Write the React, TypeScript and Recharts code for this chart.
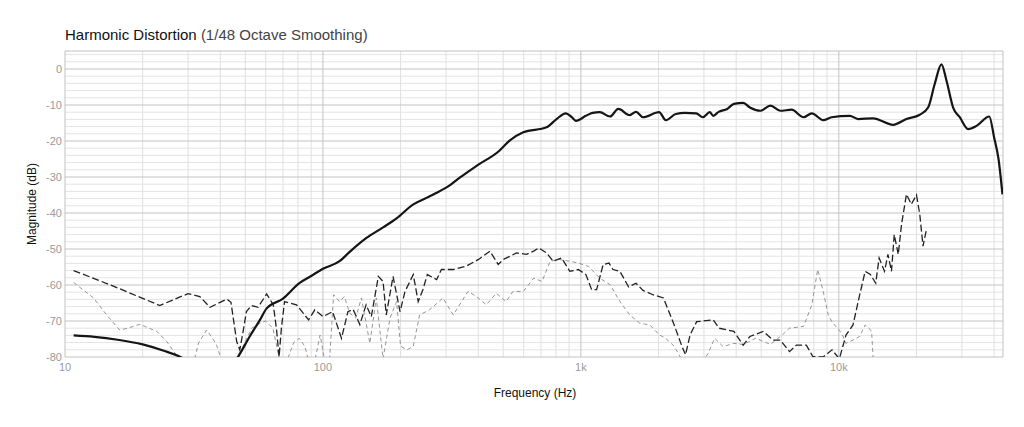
import { LineChart, Line, XAxis, YAxis, ReferenceLine } from "recharts";

// [frequency Hz, magnitude dB]
const fundamental: [number, number][] = [
	[10.8, -74.0], [13, -74.4], [16, -75.2], [20, -76.5], [24, -78.2], [28, -80], [31, -82],
	[35, -86], [42, -84], [46.8, -80], [52, -74.3], [57, -69.7], [60.5, -66.5], [70, -63.8],
	[81, -59.5], [90, -57.5], [100, -55.5], [116, -53.4], [127, -50.8], [147, -47], [171, -44],
	[193, -41.5], [224, -37.6], [252, -35.8], [276, -34.4], [312, -32.2], [339, -30.2],
	[394, -26.9], [483, -22.7], [529, -19.9], [598, -17.6], [736, -16.2], [805, -13.9],
	[874, -12.3], [920, -13.3], [957, -14.4], [1046, -13.0], [1110, -12.2], [1184, -12.0],
	[1297, -13.2], [1397, -11.1], [1546, -12.8], [1636, -11.9], [1741, -13.4], [2010, -12.0],
	[2135, -14.2], [2334, -12.5], [2530, -12.2], [2800, -12.3], [2970, -13.4], [3160, -12.0],
	[3260, -13.0], [3420, -11.9], [3690, -11.1], [3920, -9.7], [4260, -9.4], [4520, -10.7],
	[4970, -11.6], [5430, -10.2], [5930, -11.6], [6560, -11.3], [7300, -13.4], [7860, -12.3],
	[8700, -14.2], [9370, -13.4], [11030, -13.0], [11880, -13.9], [13580, -13.7],
	[16230, -15.5], [18290, -13.9], [20600, -12.7], [22190, -10.7], [23550, -4.1],
	[25000, 1.3], [26140, -3.2], [27740, -10.7], [29440, -13.4], [31700, -16.7],
	[34200, -15.8], [38300, -13.2], [40000, -19], [41600, -25], [43100, -34.8],
];

const secondHarmonic: [number, number][] = [
	[10.8, -56], [14.9, -59.9], [20, -63.7], [23.3, -65.7], [26.3, -64.1], [30, -62.4],
	[33.3, -63.2], [36.5, -66.2], [42.4, -63.9], [44, -64.8], [46.3, -75.7], [47.6, -78],
	[49, -73], [50.5, -67.4], [52.9, -65.7], [56, -66.2], [60.5, -62.5], [64.2, -65.5],
	[66, -72], [67.6, -80], [69, -72], [71, -64.6], [79, -65.5], [88, -69.7], [93, -66.9],
	[100, -68.8], [109, -67.4], [118, -74.8], [125, -67.4], [131, -66.8], [139, -71],
	[147, -65.5], [154, -68.8], [164, -57.6], [171, -59], [176, -68.3], [187, -57.6],
	[199, -67.4], [208, -61.8], [224, -57.1], [234, -64.6], [244, -61.3], [254, -57.1],
	[276, -58.5], [288, -55.7], [320, -55.7], [359, -54.8], [401, -52.9], [444, -50.6],
	[478, -54.3], [501, -52.9], [563, -51.1], [616, -51.5], [656, -50.6], [687, -49.7],
	[736, -51.1], [781, -53.4], [842, -52.5], [906, -56.2], [977, -55.7], [1046, -57.1],
	[1101, -61.3], [1151, -61.3], [1220, -54.3], [1285, -53.9], [1332, -55.7], [1417, -56.2],
	[1530, -60.5], [1636, -59.5], [1741, -61.5], [1900, -62.7], [2090, -63.6], [2300, -71.1],
	[2455, -76.7], [2545, -79.4], [2650, -73.9], [2810, -70.2], [3260, -69.7], [3430, -72],
	[3920, -72.9], [4260, -76.7], [4520, -74.3], [5090, -72.9], [5560, -75.3], [5930, -75.3],
	[6440, -78.5], [6850, -76.7], [7480, -76.7], [7930, -79.9], [8700, -80], [9410, -78],
	[10050, -80.5], [10660, -73.9], [11350, -71.1], [12050, -62.7], [12650, -56.2],
	[13260, -57.1], [13900, -59.5], [14330, -52.5], [15040, -56.2], [15500, -51.5],
	[16000, -56.2], [16400, -46], [17000, -51.5], [17500, -43.2], [18290, -34.8],
	[19100, -37.6], [20000, -35], [20600, -40.4], [21200, -49.2], [21800, -45],
];

const thirdHarmonic: [number, number][] = [
	[10.8, -59.3], [12.9, -63.6], [14.5, -68.3], [16.3, -72.5], [17.5, -72], [19.5, -70.9],
	[22.7, -72.9], [24.8, -75.7], [27, -79.4], [28.5, -83], [31.4, -82], [33, -76],
	[35.4, -72.5], [37.5, -75], [38.7, -76.7], [40.5, -81], [44, -86], [47.6, -79],
	[52.9, -72], [57, -70.6], [60, -70], [64, -72], [68, -81], [72.6, -81], [77, -76],
	[81, -74.8], [85, -77], [88, -81], [93, -81], [97.5, -73.9], [101.6, -81], [106, -81],
	[110, -62.7], [116, -64.6], [121, -63.2], [127, -67.8], [134, -69.2], [141, -63.6],
	[152, -76.2], [161, -63.6], [171, -80.5], [182, -69.2], [193, -64.6], [200, -77],
	[212, -78], [224, -77], [237, -68.3], [259, -66.9], [292, -63.6], [320, -68.3],
	[365, -61.8], [394, -63.2], [430, -65.5], [470, -62.3], [513, -64.6], [545, -61.8],
	[598, -61.8], [656, -58.1], [707, -59], [760, -53.4], [826, -52.9], [906, -53.4],
	[977, -53.9], [1069, -54.8], [1184, -58.1], [1297, -59.9], [1417, -64.6], [1546, -68.3],
	[1690, -70.6], [1850, -71.1], [2020, -73.9], [2130, -74.8], [2300, -77], [2475, -81],
	[2800, -84], [3113, -79], [3300, -74.8], [3560, -77.1], [3920, -76.2], [4260, -76.5],
	[4760, -74.8], [5430, -76.5], [6030, -73.9], [6440, -72], [7300, -71.5], [7860, -65.5],
	[8280, -55.7], [8700, -61.8], [9100, -68.3], [9400, -70.2], [10260, -73.4],
	[10650, -76.2], [11350, -75.3], [12050, -74.3], [12650, -71.1], [13100, -72],
	[13400, -72.9], [13600, -81],
];

const xTicks = [10, 100, 1000, 10000];
const xTickLabels = ["10", "100", "1k", "10k"];
const yTicks = [-80, -70, -60, -50, -40, -30, -20, -10, 0];

const X_MIN = 10;
const X_MAX = 43300;
const Y_MIN = -80;
const Y_MAX = 5;

const minorFreqs: number[] = [];
for (const d of xTicks) {
	for (let m = 2; m <= 9; m++) {
		if (d * m < X_MAX) minorFreqs.push(d * m);
	}
}
const minorDb: number[] = [];
for (let v = Y_MIN + 2; v < Y_MAX; v += 2) {
	if (v % 10 !== 0) minorDb.push(v);
}

const toRows = (pts: [number, number][]) => pts.map(([f, db]) => ({ f, db }));

const font = '"Liberation Sans", Arial, Helvetica, sans-serif';

export default function App() {
	return (
		<div
			style={{
				position: "absolute",
				left: 0,
				top: 0,
				width: 1024,
				height: 427,
				background: "#fff",
				fontFamily: font,
			}}
		>
			<div
				style={{
					position: "absolute",
					left: 65,
					top: 26,
					fontSize: 15,
					color: "#111",
					whiteSpace: "nowrap",
				}}
			>
				Harmonic Distortion <span style={{ color: "#444" }}>(1/48 Octave Smoothing)</span>
			</div>
			<div
				style={{
					position: "absolute",
					left: 32,
					top: 204,
					fontSize: 12,
					color: "#111",
					whiteSpace: "nowrap",
					transform: "translate(-50%, -50%) rotate(-90deg)",
				}}
			>
				Magnitude (dB)
			</div>
			<div
				style={{
					position: "absolute",
					left: 535,
					top: 393,
					fontSize: 12,
					color: "#111",
					whiteSpace: "nowrap",
					transform: "translate(-50%, -50%)",
				}}
			>
				Frequency (Hz)
			</div>
			<LineChart
				width={1024}
				height={427}
				margin={{ top: 51, right: 21, bottom: 0, left: 0 }}
				style={{ position: "absolute", left: 0, top: 0 }}
			>
				<XAxis
					type="number"
					dataKey="f"
					scale="log"
					domain={[X_MIN, X_MAX]}
					allowDataOverflow
					ticks={xTicks}
					tickFormatter={(v: number) => xTickLabels[xTicks.indexOf(v)] ?? String(v)}
					tick={{ fontSize: 11, fill: "#9a9a9a", fontFamily: font }}
					tickLine={false}
					axisLine={false}
					tickSize={0}
					tickMargin={6}
					height={70}
				/>
				<YAxis
					type="number"
					domain={[Y_MIN, Y_MAX]}
					allowDataOverflow
					ticks={yTicks}
					tick={{ fontSize: 11, fill: "#9a9a9a", fontFamily: font }}
					tickLine={false}
					axisLine={false}
					tickSize={0}
					tickMargin={3}
					width={65}
				/>
				{minorDb.map((v) => (
					<ReferenceLine key={"hy" + v} y={v} stroke="#e4e4e4" strokeWidth={1} />
				))}
				{minorFreqs.map((f) => (
					<ReferenceLine key={"vx" + f} x={f} stroke="#e0e0e0" strokeWidth={1} />
				))}
				{yTicks.map((v) => (
					<ReferenceLine key={"Hy" + v} y={v} stroke="#c2c2c2" strokeWidth={1} />
				))}
				{xTicks.map((f) => (
					<ReferenceLine key={"Vx" + f} x={f} stroke="#c2c2c2" strokeWidth={1} />
				))}
				<ReferenceLine y={Y_MAX} stroke="#c2c2c2" strokeWidth={1} />
				<ReferenceLine x={X_MAX} stroke="#c2c2c2" strokeWidth={1} />
				<Line
					data={toRows(thirdHarmonic)}
					dataKey="db"
					type="linear"
					stroke="#8a8a8a"
					strokeWidth={0.9}
					strokeDasharray="4 3"
					dot={false}
					isAnimationActive={false}
				/>
				<Line
					data={toRows(secondHarmonic)}
					dataKey="db"
					type="linear"
					stroke="#222"
					strokeWidth={1.3}
					strokeDasharray="7 3"
					dot={false}
					isAnimationActive={false}
				/>
				<Line
					data={toRows(fundamental)}
					dataKey="db"
					type="monotone"
					stroke="#151515"
					strokeWidth={2.2}
					dot={false}
					isAnimationActive={false}
				/>
			</LineChart>
		</div>
	);
}
